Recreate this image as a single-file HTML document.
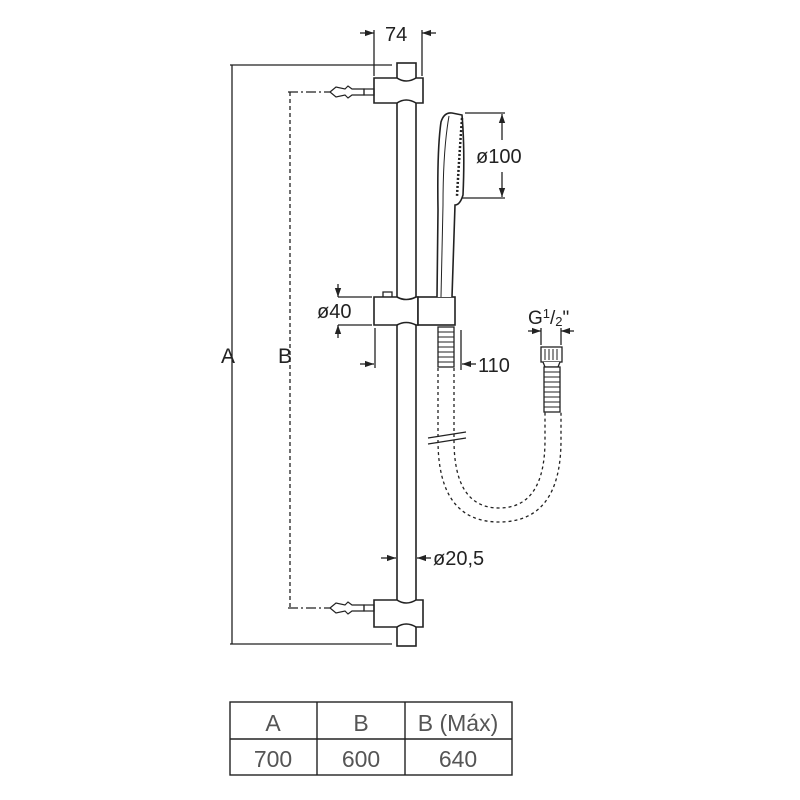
<!DOCTYPE html>
<html><head><style>
html,body{margin:0;padding:0;background:#fff;}
svg{display:block;}
text{font-family:"Liberation Sans",sans-serif;fill:#222;}
</style></head><body>
<svg width="800" height="800" viewBox="0 0 800 800">
<defs>
<marker id="ar" viewBox="0 0 10 10" refX="10" refY="5" markerWidth="7" markerHeight="7" orient="auto-start-reverse"><path d="M0,1.5 L10,5 L0,8.5 z" fill="#222"/></marker>
</defs>
<g stroke="#222" stroke-width="1.3" fill="none">
<line x1="230" y1="65" x2="392" y2="65"/>
<line x1="230" y1="644" x2="392" y2="644"/>
<line x1="232" y1="65" x2="232" y2="644"/>
<line x1="290" y1="92" x2="290" y2="608" stroke-dasharray="4,3"/>
<line x1="288" y1="92" x2="330" y2="92" stroke-dasharray="10,3,2,3"/>
<line x1="288" y1="608" x2="330" y2="608" stroke-dasharray="10,3,2,3"/>
<rect x="397" y="63" width="19" height="583" fill="#fff" stroke-width="1.6"/>
<path d="M374,78 H397 Q406,84 416,78 H423 V103 H416 Q406,97 397,103 H374 Z" fill="#fff" stroke-width="1.6"/>
<path d="M374,600 H397 Q406,606 416,600 H423 V627 H416 Q406,621 397,627 H374 Z" fill="#fff" stroke-width="1.6"/>
<g stroke-width="1.2">
<path d="M330,92 L336,87 L345,89 L348,86 L352,89 L364,89 V95 L352,95 L348,98 L345,95 L336,97 Z" fill="#fff"/>
<rect x="364" y="89" width="10" height="6"/>
<path d="M330,608 L336,603 L345,605 L348,602 L352,605 L364,605 V611 L352,611 L348,614 L345,611 L336,613 Z" fill="#fff"/>
<rect x="364" y="605" width="10" height="6"/>
</g>
<line x1="374" y1="30" x2="374" y2="76"/>
<line x1="422" y1="30" x2="422" y2="76"/>
<line x1="360" y1="33" x2="374" y2="33" marker-end="url(#ar)"/>
<line x1="436" y1="33" x2="422" y2="33" marker-end="url(#ar)"/>
<path d="M383,297 V292 H392 V297" fill="#fff"/>
<path d="M374,297 H397 Q406,302 416,297 H418 V325 H416 Q406,320 397,325 H374 Z" fill="#fff" stroke-width="1.6"/>
<rect x="418" y="297" width="37" height="28" fill="#fff" stroke-width="1.6"/>
<line x1="338" y1="297" x2="372" y2="297"/>
<line x1="338" y1="325" x2="372" y2="325"/>
<line x1="338" y1="284" x2="338" y2="297" marker-end="url(#ar)"/>
<line x1="338" y1="338" x2="338" y2="325" marker-end="url(#ar)"/>
<line x1="375" y1="328" x2="375" y2="368"/>
<line x1="360" y1="364" x2="374" y2="364" marker-end="url(#ar)"/>
<path d="M437,297 L438,210 Q437,150 441,122 Q444,112 452,113 L462,115 Q465,150 463,195 Q460,205 455,205 L452,297" fill="#fff" stroke-width="1.6"/>
<path d="M441,297 L443,205 Q443,150 449,116" stroke-width="1"/>
<path d="M462,118 Q459,160 457,196" stroke-width="2.5" stroke-dasharray="2,2"/>
<line x1="465" y1="113" x2="505" y2="113"/>
<line x1="462" y1="198" x2="505" y2="198"/>
<line x1="502" y1="140" x2="502" y2="114" marker-end="url(#ar)"/>
<line x1="502" y1="172" x2="502" y2="197" marker-end="url(#ar)"/>
<rect x="438" y="327" width="16" height="40" fill="#fff"/>
<path d="M438,332 H454 M438,337 H454 M438,342 H454 M438,347 H454 M438,352 H454 M438,357 H454 M438,362 H454" stroke-width="1"/>
<line x1="461" y1="330" x2="461" y2="370"/>
<line x1="476" y1="364" x2="462" y2="364" marker-end="url(#ar)"/>
<path d="M438,368 V440 Q438,522 499,522 Q561,522 561,440 V412" stroke-dasharray="3,3"/>
<path d="M454,368 V440 Q454,508 499,508 Q545,508 545,440 V412" stroke-dasharray="3,3"/>
<path d="M428,438 L466,432 M428,444 L466,438" stroke-width="1.2"/>
<rect x="541" y="347" width="21" height="15" fill="#fff"/>
<path d="M545,349 V360 M549,349 V360 M553,349 V360 M557,349 V360" stroke-width="1"/>
<path d="M543,362 L545,367 H558 L560,362" fill="#fff"/>
<rect x="544" y="367" width="16" height="45" fill="#fff"/>
<path d="M544,372 H560 M544,377 H560 M544,382 H560 M544,387 H560 M544,392 H560 M544,397 H560 M544,402 H560 M544,407 H560" stroke-width="1"/>
<line x1="541" y1="328" x2="541" y2="345"/>
<line x1="561" y1="328" x2="561" y2="345"/>
<line x1="528" y1="331" x2="541" y2="331" marker-end="url(#ar)"/>
<line x1="574" y1="331" x2="561" y2="331" marker-end="url(#ar)"/>
<line x1="381" y1="558" x2="396" y2="558" marker-end="url(#ar)"/>
<line x1="431" y1="558" x2="417" y2="558" marker-end="url(#ar)"/>
<rect x="230" y="702" width="282" height="73" stroke-width="1.4"/>
<line x1="230" y1="739" x2="512" y2="739" stroke-width="1.4"/>
<line x1="317" y1="702" x2="317" y2="775" stroke-width="1.4"/>
<line x1="405" y1="702" x2="405" y2="775" stroke-width="1.4"/>
</g>
<text x="385" y="41" font-size="20">74</text>
<text x="476" y="163" font-size="20">ø100</text>
<text x="317" y="318" font-size="20">ø40</text>
<text x="478" y="372" font-size="20">110</text>
<text x="528" y="324" font-size="19">G<tspan font-size="13" dy="-6">1</tspan><tspan dy="6">/</tspan><tspan font-size="13" dy="2">2</tspan><tspan dy="-2">"</tspan></text>
<text x="433" y="565" font-size="20">ø20,5</text>
<text x="221" y="363" font-size="21">A</text>
<text x="278" y="363" font-size="21">B</text>
<g font-size="23" text-anchor="middle">
<text x="273" y="731" style="fill:#555">A</text>
<text x="361" y="731" style="fill:#555">B</text>
<text x="458" y="731" style="fill:#555">B (Máx)</text>
<text x="273" y="767" style="fill:#555">700</text>
<text x="361" y="767" style="fill:#555">600</text>
<text x="458" y="767" style="fill:#555">640</text>
</g>
</svg>
</body></html>
